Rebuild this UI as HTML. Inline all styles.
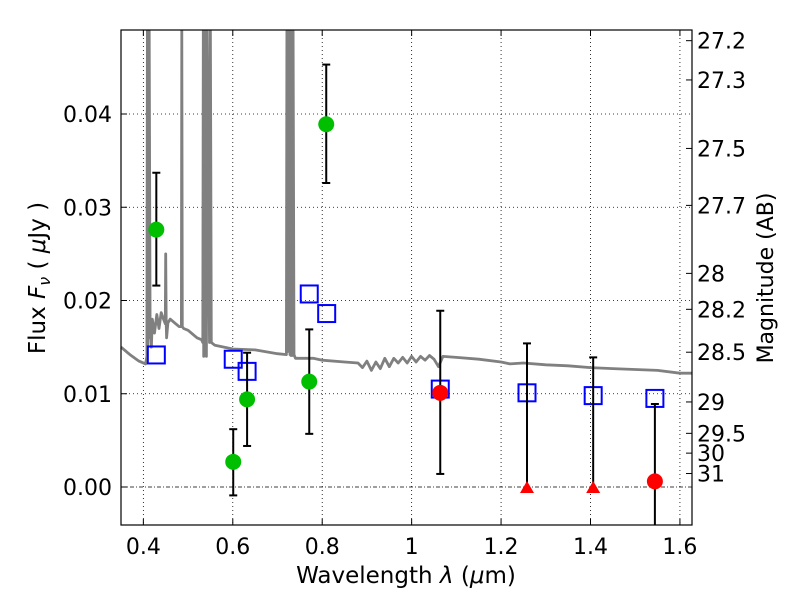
<!DOCTYPE html>
<html><head><meta charset="utf-8"><style>
body{margin:0;background:#fff}
svg{display:block;font-family:"DejaVu Sans","Liberation Sans",sans-serif}
</style></head><body>
<svg id="chart" width="800" height="600" viewBox="0 0 800 600" xmlns="http://www.w3.org/2000/svg">
<rect width="800" height="600" fill="#fff"/>
<g id="grid"></g>
<g id="spec"></g>
<g id="marks"></g>
<rect x="121" y="30" width="571" height="495" fill="none" stroke="#000" stroke-width="1.2"/>
<g id="axes"></g>
<text x="406" y="583" font-size="23" text-anchor="middle">Wavelength  <tspan font-style="italic">λ</tspan> (<tspan font-style="italic">μ</tspan>m)</text>
<text transform="translate(45,278) rotate(-90)" font-size="23" text-anchor="middle">Flux  <tspan font-style="italic">F</tspan><tspan font-style="italic" font-size="16" dy="5">ν</tspan><tspan dy="-5">  (  </tspan><tspan font-style="italic">μ</tspan>Jy )</text>
<text transform="translate(773,278) rotate(-90)" font-size="22" text-anchor="middle">Magnitude (AB)</text>
</svg>
<script>
const xTicks=[0.4,0.6,0.8,1.0,1.2,1.4,1.6];
const xTickLabels=["0.4","0.6","0.8","1","1.2","1.4","1.6"];
const yTicks=[0,0.01,0.02,0.03,0.04];
const yTickLabels=["0.00","0.01","0.02","0.03","0.04"];
const magTicks=[27.2,27.3,27.5,27.7,28,28.2,28.5,29,29.5,30,31];
const greenX=[0.429,0.601,0.632,0.771,0.809];
const greenY=[0.0276,0.0027,0.0094,0.0113,0.0389];
const greenHi=[0.0337,0.0062,0.0144,0.0169,0.0453];
const greenLo=[0.0216,-0.0009,0.0044,0.0057,0.0326];
const blueX=[0.429,0.601,0.632,0.771,0.810,1.064,1.258,1.406,1.544];
const blueY=[0.01416,0.0137,0.0124,0.0207,0.0186,0.0105,0.0101,0.0098,0.0095];
const redX=[1.064,1.544];
const redY=[0.0101,0.0006];
const redHi=[0.0189,0.0089];
const redLo=[0.0014,-0.006];
const limX=[1.258,1.406];
const limY=[0,0];
const limHi=[0.0154,0.0139];
const specW=[0.35,0.37,0.39,0.405,0.408,0.409,0.41,0.411,0.412,0.413,0.415,0.418,0.42,0.425,0.43,0.435,0.44,0.445,0.449,0.450,0.451,0.452,0.455,0.46,0.47,0.48,0.485,0.486,0.487,0.49,0.50,0.52,0.53,0.533,0.534,0.535,0.539,0.541,0.543,0.548,0.550,0.552,0.56,0.6,0.65,0.7,0.72,0.721,0.722,0.723,0.728,0.729,0.73,0.733,0.735,0.737,0.74,0.78,0.8,0.85,0.88,0.89,0.9,0.91,0.92,0.93,0.94,0.95,0.96,0.97,0.98,0.99,1.0,1.01,1.02,1.03,1.04,1.05,1.06,1.07,1.1,1.15,1.2,1.22,1.25,1.3,1.35,1.4,1.45,1.5,1.55,1.6,1.627];
const specF=[0.0150,0.0142,0.0135,0.0132,0.014,0.06,0.015,0.06,0.016,0.06,0.017,0.015,0.018,0.0165,0.0185,0.0170,0.0187,0.0180,0.0175,0.025,0.0175,0.016,0.0176,0.0180,0.0176,0.0172,0.0172,0.06,0.0172,0.0170,0.0168,0.0160,0.0158,0.0155,0.06,0.014,0.06,0.014,0.06,0.0155,0.06,0.0155,0.0152,0.0148,0.0147,0.0143,0.0142,0.06,0.0145,0.06,0.0142,0.06,0.0141,0.0141,0.06,0.0142,0.0138,0.0138,0.0136,0.0134,0.0133,0.0128,0.0135,0.0125,0.0134,0.0127,0.0138,0.0129,0.0138,0.0133,0.0139,0.0133,0.014,0.0134,0.014,0.0136,0.0141,0.0137,0.0129,0.0140,0.0139,0.0137,0.0134,0.0132,0.0133,0.0131,0.0130,0.0128,0.0127,0.0126,0.0125,0.0122,0.0122];
const X=v=>121+(v-0.35)*(571/1.277);
const Y=v=>487-v*9325;
const NS="http://www.w3.org/2000/svg";
function mk(parent,tag,attrs){const e=document.createElementNS(NS,tag);for(const k in attrs)e.setAttribute(k,attrs[k]);document.getElementById(parent).appendChild(e);return e;}
xTicks.forEach((t,i)=>{
 const g=mk('grid','line',{x1:X(t),x2:X(t),y1:30,y2:525,stroke:'#000','stroke-width':0.8,'stroke-dasharray':'1,3'});
 
 
 mk('axes','line',{x1:X(t),x2:X(t),y1:525,y2:519,stroke:'#000'});
 mk('axes','line',{x1:X(t),x2:X(t),y1:30,y2:36,stroke:'#000'});
 const l=mk('axes','text',{x:X(t),y:554,'font-size':22,'text-anchor':'middle'});
 l.textContent=xTickLabels[i];
 
 
});
yTicks.forEach((t,i)=>{
 const g=mk('grid','line',{x1:121,x2:692,y1:Y(t),y2:Y(t),stroke:'#000','stroke-width':0.8,'stroke-dasharray':t===0?'4,2,1,2':'1,3'});
 
 
 mk('axes','line',{x1:121,x2:127,y1:Y(t),y2:Y(t),stroke:'#000'});
 const l=mk('axes','text',{x:112,y:Y(t)+8,'font-size':22,'text-anchor':'end'});
 l.textContent=yTickLabels[i];
 
 
});
magTicks.forEach(m=>{
 const f=Math.pow(10,(23.9-m)/2.5);
 const y=Y(f);
 mk('axes','line',{x1:686,x2:692,y1:y,y2:y,stroke:'#000'});
 const l=mk('axes','text',{x:697,y:y+8,'font-size':22});
 l.textContent=String(m);
 
 
});
let d='';specW.forEach((w,i)=>{d+=(i?'L':'M')+X(w).toFixed(1)+','+Math.max(Y(specF[i]),31).toFixed(1);});
const sp=mk('spec','path',{d:d,fill:'none',stroke:'#808080','stroke-width':2.8,'stroke-linejoin':'round'});


function ebar(x,hi,lo,cap){
 const yl=Math.min(Y(lo),525);
 const e=mk('marks','line',{x1:X(x),x2:X(x),y1:Y(hi),y2:yl,stroke:'#000','stroke-width':2});
 
 
 mk('marks','line',{x1:X(x)-4,x2:X(x)+4,y1:Y(hi),y2:Y(hi),stroke:'#000','stroke-width':2});
 if(cap&&Y(lo)<525)mk('marks','line',{x1:X(x)-4,x2:X(x)+4,y1:Y(lo),y2:Y(lo),stroke:'#000','stroke-width':2});
}
blueX.forEach((x,i)=>{
 const r=mk('marks','rect',{x:X(x)-8.5,y:Y(blueY[i])-8.5,width:17,height:17,fill:'none',stroke:'#0000ff','stroke-width':2});
 
 
});
greenX.forEach((x,i)=>{
 ebar(x,greenHi[i],greenLo[i],true);
 const c=mk('marks','circle',{cx:X(x),cy:Y(greenY[i]),r:8,fill:'#00bf00'});
 
 
});
redX.forEach((x,i)=>{
 ebar(x,redHi[i],redLo[i],true);
 const c=mk('marks','circle',{cx:X(x),cy:Y(redY[i]),r:8,fill:'#ff0000'});
 
 
});
limX.forEach((x,i)=>{
 ebar(x,limHi[i],limY[i],false);
 const cx=X(x),cy=Y(limY[i]);
 const t=mk('marks','polygon',{points:`${cx-7},${cy+6} ${cx+7},${cy+6} ${cx},${cy-6}`,fill:'#ff0000'});
 
 
});
</script>
</body></html>
